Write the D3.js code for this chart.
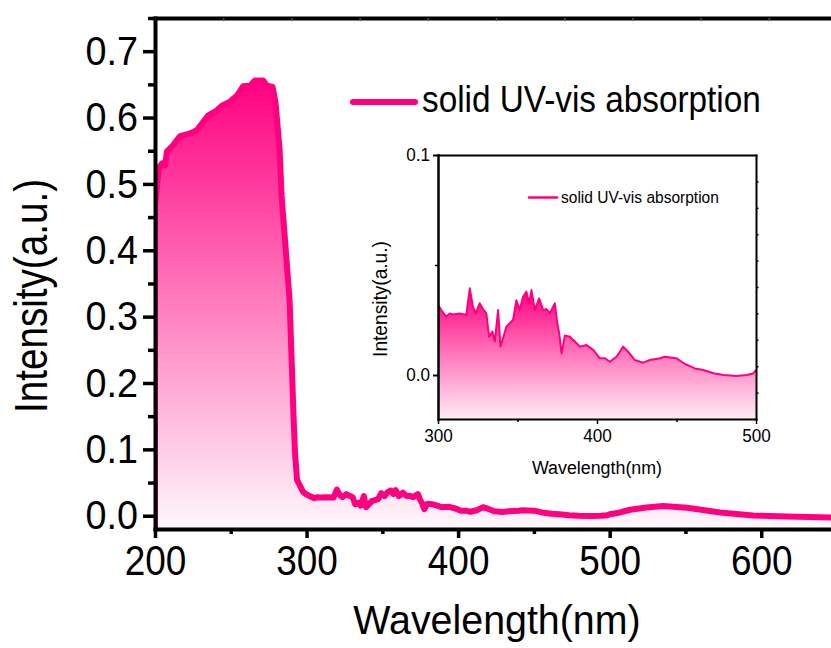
<!DOCTYPE html>
<html>
<head>
<meta charset="utf-8">
<script src="https://cdn.jsdelivr.net/npm/d3@7"></script>
<style>
  body { margin: 0; background: #fff; }
  svg { display: block; font-family: "Liberation Sans", Arial, sans-serif; }
</style>
</head>
<body>
<svg id="chart" width="831" height="648"></svg>
<script>
// spectrum (nm, a.u.)
var wavelength = [200, 201.3, 202.6, 204.6, 206.6, 207.9, 211.9, 216.5, 223.1, 227.7, 231, 235, 240.9, 244.2, 249.5,
  254.1, 258.1, 262.7, 266, 271.3, 273.9, 277.6, 279.5, 282.2, 283.5, 288.8, 291.5, 292.4, 293.7, 297.7,
  300, 302, 305.2, 307.3, 309.4, 313.6, 317.8, 320, 322, 323.7, 326.2, 328.3, 330.4, 332.1, 334.2, 335.7,
  337.8, 339.3, 340.9, 343, 345.1, 347.2, 349.3, 351.4, 353.5, 355.6, 357.3, 358.8, 360.9, 363.6, 366.1,
  368.2, 370.3, 373.5, 374.9, 376.2, 377.7, 379.8, 382.9, 386.1, 389.2, 393.4, 397.6, 401.8, 405, 408.1,
  412.3, 416.5, 419.6, 423.8, 429.1, 433.3, 439.6, 442.7, 445.9, 450.1, 455.3, 461.6, 466.9, 473.2, 479.5,
  487.9, 494.2, 498.4, 500, 505, 513.5, 524, 535.3, 551.2, 572.9, 594.7, 617.2, 646.2, 650];
var intensity = [0.468, 0.497, 0.524, 0.531, 0.528, 0.549, 0.558, 0.572, 0.576, 0.581, 0.591, 0.603, 0.611, 0.618, 0.624,
  0.633, 0.647, 0.648, 0.656, 0.656, 0.648, 0.646, 0.623, 0.552, 0.483, 0.325, 0.144, 0.094, 0.054, 0.036,
  0.032, 0.0295, 0.0265, 0.028, 0.0275, 0.028, 0.0273, 0.0394, 0.031, 0.028, 0.0326, 0.030, 0.028, 0.0174, 0.0197, 0.0152,
  0.0295, 0.0129, 0.0167, 0.022, 0.0235, 0.025, 0.034, 0.0295, 0.0356, 0.0379, 0.0326, 0.0386, 0.0295, 0.0348, 0.0295,
  0.030, 0.028, 0.0326, 0.0242, 0.019, 0.0098, 0.018, 0.0174, 0.0152, 0.0129, 0.0136, 0.0114, 0.0076, 0.0076, 0.006,
  0.0083, 0.0129, 0.0106, 0.0068, 0.0056, 0.0068, 0.0076, 0.0083, 0.008, 0.0076, 0.005, 0.003, 0.0023, 0.0008, 0.0,
  -0.0005, 0.0, 0.0008, 0.0023, 0.004, 0.009, 0.0125, 0.0145, 0.012, 0.005, 0.0005, -0.001, -0.0025, -0.0025];

var xTicks = [200, 300, 400, 500, 600];
var xMinor = [250, 350, 450, 550, 650];
var yTicks = [0, 0.1, 0.2, 0.3, 0.4, 0.5, 0.6, 0.7];
var yMinor = [0.05, 0.15, 0.25, 0.35, 0.45, 0.55, 0.65, 0.75];
var insetXTicks = [300, 400, 500];
var insetXMinor = [350, 450];
var insetYTicks = [0, 0.1];
var insetYMinor = [0.05];
var legendLabel = "solid UV-vis absorption";

var pink = "#ff0080";
var data = wavelength.map(function(w, i) { return {w: w, v: intensity[i]}; });

var svg = d3.select("#chart");
var defs = svg.append("defs");

// squeeze text a bit, origin fonts look narrow
function squeeze(sel, k) {
  sel.each(function() {
    var len = this.getComputedTextLength();
    d3.select(this).attr("textLength", len * k).attr("lengthAdjust", "spacingAndGlyphs");
  });
}

// ---------- main plot ----------
var x = d3.scaleLinear().domain([200, 650]).range([155, 837]);
var y = d3.scaleLinear().domain([-0.02, 0.75]).range([529, 18]);

defs.append("clipPath").attr("id", "clipMain").append("rect")
  .attr("x", x.range()[0]).attr("y", y.range()[1])
  .attr("width", x.range()[1] - x.range()[0]).attr("height", y.range()[0] - y.range()[1]);

var gMain = defs.append("linearGradient").attr("id", "fillMain")
  .attr("gradientUnits", "userSpaceOnUse")
  .attr("x1", 0).attr("x2", 0).attr("y1", y(0.66)).attr("y2", y(-0.04));
gMain.append("stop").attr("offset", "0").attr("stop-color", pink);
gMain.append("stop").attr("offset", "1").attr("stop-color", "#ffffff");

var area = d3.area()
  .x(function(d) { return x(d.w); })
  .y0(y(y.domain()[0]))
  .y1(function(d) { return y(d.v); });

var line = d3.line()
  .x(function(d) { return x(d.w); })
  .y(function(d) { return y(d.v); });

var plot = svg.append("g").attr("clip-path", "url(#clipMain)");
plot.append("path").datum(data)
  .attr("d", area)
  .style("fill", "url(#fillMain)");
// curve plus drop line at the left edge
plot.append("path")
  .datum([{w: wavelength[0], v: y.domain()[0]}].concat(data))
  .attr("d", line)
  .style("fill", "none")
  .style("stroke", pink)
  .style("stroke-width", "6px")
  .style("stroke-linejoin", "round");

function styleAxis(g, w) {
  g.select(".domain").style("stroke", "#000").style("stroke-width", w + "px").style("stroke-linecap", "square");
  g.selectAll(".tick line").style("stroke", "#000").style("stroke-width", (w - 0.5) + "px");
}

var xAxis = svg.append("g").attr("transform", "translate(0," + y.range()[0] + ")")
  .call(d3.axisBottom(x).tickValues(xTicks).tickSize(9).tickSizeOuter(0).tickPadding(7).tickFormat(d3.format("d")));
styleAxis(xAxis, 4);
xAxis.selectAll("text").style("font-size", "42px").style("fill", "#000").call(squeeze, 0.88);

var xAxisMinor = svg.append("g").attr("transform", "translate(0," + y.range()[0] + ")")
  .call(d3.axisBottom(x).tickValues(xMinor).tickSize(5).tickFormat(""));
xAxisMinor.select(".domain").remove();
xAxisMinor.selectAll(".tick line").style("stroke", "#000").style("stroke-width", "3.5px");

var yAxis = svg.append("g").attr("transform", "translate(" + x.range()[0] + ",0)")
  .call(d3.axisLeft(y).tickValues(yTicks).tickSize(12).tickSizeOuter(0).tickPadding(5).tickFormat(d3.format(".1f")));
styleAxis(yAxis, 4);
yAxis.selectAll("text").style("font-size", "41px").style("fill", "#000").call(squeeze, 0.92);

var yAxisMinor = svg.append("g").attr("transform", "translate(" + x.range()[0] + ",0)")
  .call(d3.axisLeft(y).tickValues(yMinor).tickSize(7).tickFormat(""));
yAxisMinor.select(".domain").remove();
yAxisMinor.selectAll(".tick line").style("stroke", "#000").style("stroke-width", "3.5px");

// top frame, small inward ticks splitting the range in ten
var topAxis = svg.append("g").attr("transform", "translate(0," + y.range()[1] + ")")
  .call(d3.axisTop(x).tickValues(d3.range(1, 10).map(function(i) { return 200 + i * 45; }))
    .tickSize(-3).tickSizeOuter(0).tickFormat(""));
styleAxis(topAxis, 4);
topAxis.selectAll(".tick line").style("stroke", "#555").style("stroke-width", "1.5px");

svg.append("text")
  .attr("transform", "translate(47,296) rotate(-90)")
  .attr("text-anchor", "middle")
  .style("font-size", "46px")
  .text("Intensity(a.u.)")
  .call(squeeze, 0.84);

svg.append("text")
  .attr("x", 497).attr("y", 634)
  .attr("text-anchor", "middle")
  .style("font-size", "41px")
  .text("Wavelength(nm)")
  .call(squeeze, 0.96);

// legend
svg.append("line")
  .attr("x1", 353).attr("x2", 415).attr("y1", 102).attr("y2", 102)
  .style("stroke", pink).style("stroke-width", "6px").style("stroke-linecap", "round");
svg.append("text")
  .attr("x", 422).attr("y", 112)
  .style("font-size", "37px")
  .text(legendLabel)
  .call(squeeze, 0.9);

// ---------- inset ----------
var x2 = d3.scaleLinear().domain([300, 500]).range([438, 756]);
var y2 = d3.scaleLinear().domain([-0.02, 0.1]).range([419, 155]);
var insetData = data.filter(function(d) { return d.w >= 300 && d.w <= 500; });

defs.append("clipPath").attr("id", "clipInset").append("rect")
  .attr("x", x2.range()[0]).attr("y", y2.range()[1])
  .attr("width", x2.range()[1] - x2.range()[0]).attr("height", y2.range()[0] - y2.range()[1]);

var gInset = defs.append("linearGradient").attr("id", "fillInset")
  .attr("gradientUnits", "userSpaceOnUse")
  .attr("x1", 0).attr("x2", 0).attr("y1", y2(0.039)).attr("y2", y2(-0.0245));
gInset.append("stop").attr("offset", "0").attr("stop-color", pink);
gInset.append("stop").attr("offset", "1").attr("stop-color", "#ffffff");

var area2 = d3.area()
  .x(function(d) { return x2(d.w); })
  .y0(y2(y2.domain()[0]))
  .y1(function(d) { return y2(d.v); });
var line2 = d3.line()
  .x(function(d) { return x2(d.w); })
  .y(function(d) { return y2(d.v); });

var inset = svg.append("g");
inset.append("rect")
  .attr("x", x2.range()[0]).attr("y", y2.range()[1])
  .attr("width", x2.range()[1] - x2.range()[0]).attr("height", y2.range()[0] - y2.range()[1])
  .style("fill", "#fff");
var insetPlot = inset.append("g").attr("clip-path", "url(#clipInset)");
insetPlot.append("path").datum(insetData).attr("d", area2).style("fill", "url(#fillInset)");
insetPlot.append("path").datum(insetData).attr("d", line2)
  .style("fill", "none").style("stroke", pink).style("stroke-width", "2px").style("stroke-linejoin", "round");

var ix = inset.append("g").attr("transform", "translate(0," + y2.range()[0] + ")")
  .call(d3.axisBottom(x2).tickValues(insetXTicks).tickSize(5).tickSizeOuter(0).tickPadding(4.5).tickFormat(d3.format("d")));
styleAxis(ix, 2);
ix.selectAll("text").style("font-size", "19px").style("fill", "#000").call(squeeze, 0.9);
var ixm = inset.append("g").attr("transform", "translate(0," + y2.range()[0] + ")")
  .call(d3.axisBottom(x2).tickValues(insetXMinor).tickSize(3).tickFormat(""));
ixm.select(".domain").remove();
ixm.selectAll(".tick line").style("stroke", "#000").style("stroke-width", "1.5px");

var iy = inset.append("g").attr("transform", "translate(" + x2.range()[0] + ",0)")
  .call(d3.axisLeft(y2).tickValues(insetYTicks).tickSize(5).tickSizeOuter(0).tickPadding(3).tickFormat(d3.format(".1f")));
styleAxis(iy, 2.5);
iy.selectAll("text").style("font-size", "18px").style("fill", "#000").call(squeeze, 0.95);
var iym = inset.append("g").attr("transform", "translate(" + x2.range()[0] + ",0)")
  .call(d3.axisLeft(y2).tickValues(insetYMinor).tickSize(3).tickFormat(""));
iym.select(".domain").remove();
iym.selectAll(".tick line").style("stroke", "#000").style("stroke-width", "1.5px");

// right frame with inward ticks, top frame plain
var iyr = inset.append("g").attr("transform", "translate(" + x2.range()[1] + ",0)")
  .call(d3.axisLeft(y2).tickValues(d3.range(1, 10).map(function(i) { return 0.1 - i * 0.012; }))
    .tickSize(-2.5).tickSizeOuter(0).tickFormat(""));
styleAxis(iyr, 2);
var ixt = inset.append("g").attr("transform", "translate(0," + y2.range()[1] + ")")
  .call(d3.axisTop(x2).tickValues([]).tickSizeOuter(0));
styleAxis(ixt, 2);

inset.append("text")
  .attr("transform", "translate(387,299) rotate(-90)")
  .attr("text-anchor", "middle")
  .style("font-size", "19.5px")
  .text("Intensity(a.u.)")
  .call(squeeze, 0.98);
inset.append("text")
  .attr("x", 597).attr("y", 474)
  .attr("text-anchor", "middle")
  .style("font-size", "18px")
  .text("Wavelength(nm)")
  .call(squeeze, 0.99);

inset.append("line")
  .attr("x1", 529).attr("x2", 557).attr("y1", 197.5).attr("y2", 197.5)
  .style("stroke", pink).style("stroke-width", "2.5px").style("stroke-linecap", "round");
inset.append("text")
  .attr("x", 561).attr("y", 203)
  .style("font-size", "16px")
  .text(legendLabel)
  .call(squeeze, 0.97);
</script>
</body>
</html>
